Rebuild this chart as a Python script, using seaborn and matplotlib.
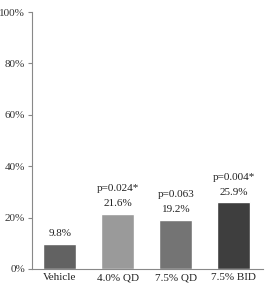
import matplotlib
matplotlib.use("Agg")
import matplotlib.pyplot as plt
import seaborn as sns
import pandas as pd
from matplotlib.ticker import PercentFormatter

# data
groups = ["Vehicle", "4.0% QD", "7.5% QD", "7.5% BID"]
rates = [9.8, 21.6, 19.2, 25.9]
pvals = ["", "p=0.024*", "p=0.063", "p=0.004*"]
colors = ["#626262", "#9a9a9a", "#747474", "#3e3e3e"]

sns.set_style("white")
plt.rcParams["font.family"] = ["Liberation Serif", "DejaVu Serif"]

df = pd.DataFrame({"group": groups, "rate": rates})

fig, ax = plt.subplots(figsize=(2.73, 2.88), dpi=100)
fig.subplots_adjust(left=0.117, right=0.963, bottom=0.066, top=0.958)

sns.barplot(data=df, x="group", y="rate", hue="group", palette=colors,
            legend=False, width=0.57, ax=ax, saturation=1)

ax.set_ylim(0, 100)
ax.set_xlim(-0.48, 3.5)
ax.set_yticks(range(0, 101, 20))
ax.yaxis.set_major_formatter(PercentFormatter(decimals=0))
ax.set_xlabel("")
ax.set_ylabel("")
ax.tick_params(axis="y", length=3, width=0.8, color="#888888", labelsize=8, pad=2, left=True,
               labelcolor="#333333")
ax.tick_params(axis="x", length=0, labelsize=8, pad=3, labelcolor="#222222")
sns.despine(ax=ax)
for s in ["left", "bottom"]:
    ax.spines[s].set_color("#888888")
    ax.spines[s].set_linewidth(0.8)

for i, (r, p) in enumerate(zip(rates, pvals)):
    ax.annotate(f"{r}%", (i, r), xytext=(0, 4), textcoords="offset points",
                ha="center", va="bottom", fontsize=8, color="#222222")
    if p:
        ax.annotate(p, (i, r), xytext=(0, 15), textcoords="offset points",
                    ha="center", va="bottom", fontsize=8, color="#222222")

fig.savefig("out.png", dpi=100)
